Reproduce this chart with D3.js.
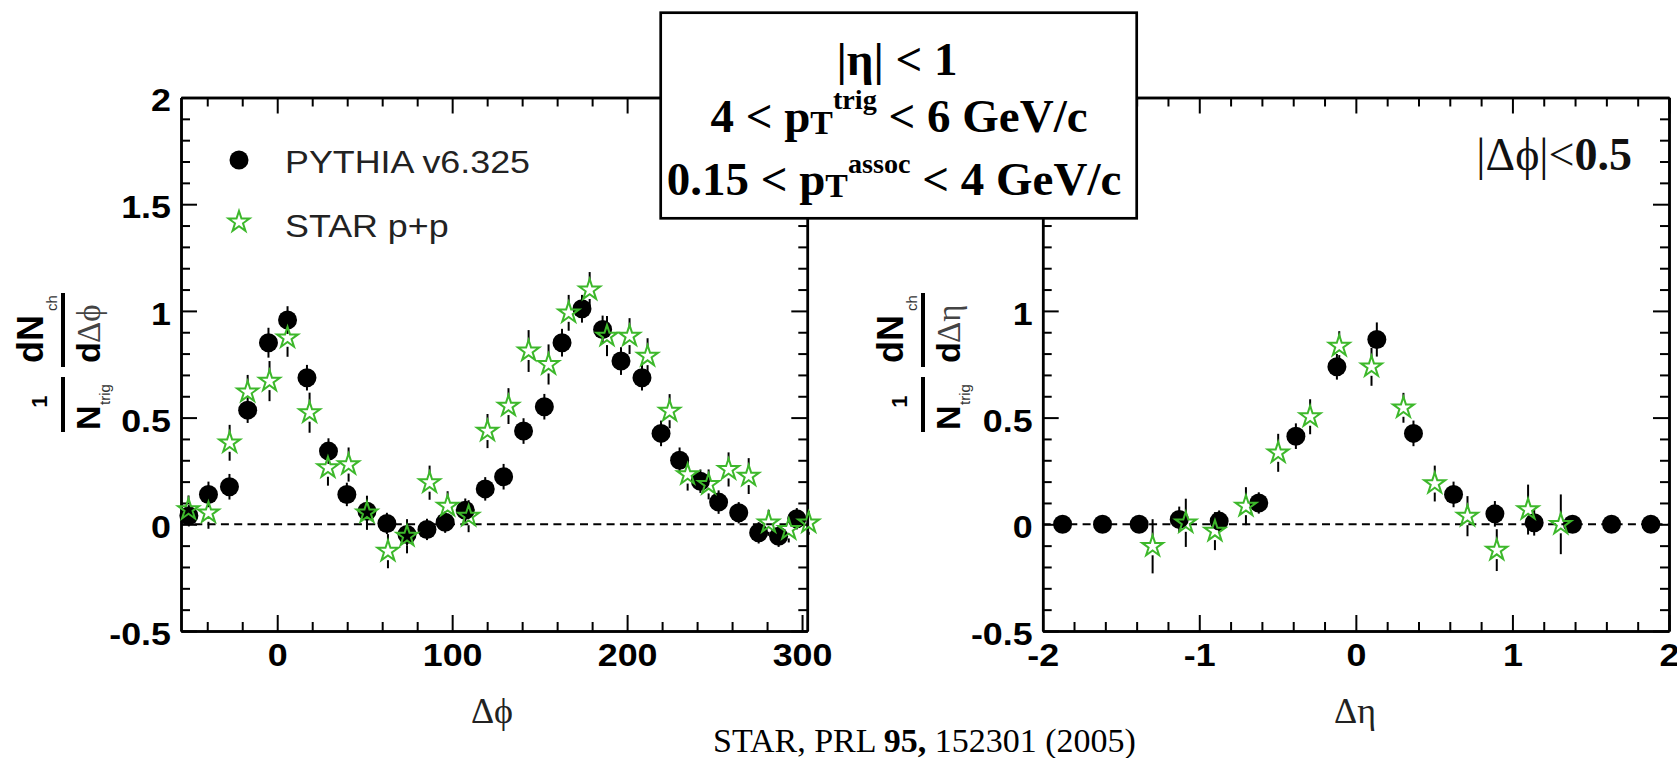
<!DOCTYPE html>
<html>
<head>
<meta charset="utf-8">
<script src="https://cdn.jsdelivr.net/npm/d3@7"></script>
<style>
body { margin: 0; background: #fff; }
svg { display: block; }
</style>
</head>
<body>
<div id="chart"></div>
<script>
// left panel, delta phi in degrees
const phiPythiaX = [-50.5, -39.3, -27.3, -16.9, -5.0, 5.9, 17.0, 29.3, 39.8, 51.3, 62.7, 74.2, 85.6, 96.0, 107.5, 118.9,
    129.4, 140.8, 152.7, 162.8, 174.2, 186.0, 196.5, 208.5, 219.4, 230.0, 241.9, 252.3, 263.8, 275.2, 286.6, 297.0];
const phiPythiaY = [0.04, 0.14, 0.176, 0.535, 0.851, 0.957, 0.687, 0.343, 0.14, 0.061, 0.004, -0.048, -0.024, 0.01, 0.066, 0.166,
    0.223, 0.437, 0.551, 0.851, 1.01, 0.913, 0.765, 0.687, 0.426, 0.30, 0.202, 0.104, 0.054, -0.04, -0.056, 0.026];
const phiPythiaE = [0.05, 0.06, 0.06, 0.06, 0.07, 0.065, 0.06, 0.06, 0.055, 0.055, 0.05, 0.05, 0.05, 0.05, 0.055, 0.055,
    0.06, 0.06, 0.06, 0.065, 0.065, 0.065, 0.065, 0.06, 0.06, 0.06, 0.055, 0.055, 0.05, 0.05, 0.05, 0.05];

const phiStarX = [-50.7, -39.3, -27.2, -16.9, -4.4, 5.9, 18.5, 29.0, 40.8, 51.3, 63.3, 74.2, 87.1, 97.4, 109.4, 120.2,
    132.2, 143.7, 155.1, 166.6, 178.6, 188.5, 201.4, 211.7, 224.3, 234.6, 246.6, 258.0, 269.5, 280.9, 292.4, 303.8];
const phiStarY = [0.069, 0.054, 0.382, 0.62, 0.671, 0.874, 0.523, 0.265, 0.28, 0.054, -0.126, -0.056, 0.195, 0.085, 0.038, 0.437,
    0.554, 0.812, 0.749, 0.991, 1.098, 0.882, 0.882, 0.788, 0.53, 0.233, 0.187, 0.257, 0.226, 0.007, -0.024, 0.007];
const phiStarE = [0.066, 0.075, 0.084, 0.08, 0.094, 0.089, 0.094, 0.084, 0.08, 0.08, 0.08, 0.08, 0.08, 0.07, 0.075, 0.08,
    0.084, 0.098, 0.094, 0.084, 0.084, 0.094, 0.084, 0.084, 0.08, 0.075, 0.07, 0.08, 0.084, 0.061, 0.061, 0.056];

// right panel, delta eta
const etaPythiaX = [-1.873, -1.618, -1.384, -1.128, -0.873, -0.62, -0.383, -0.121, 0.134, 0.368, 0.624, 0.888, 1.139, 1.384, 1.633, 1.884];
const etaPythiaY = [0, 0, 0, 0.023, 0.015, 0.10, 0.413, 0.738, 0.866, 0.426, 0.14, 0.049, 0.007, 0, 0, 0];
const etaPythiaE = [0.04, 0.04, 0.04, 0.06, 0.05, 0.05, 0.06, 0.06, 0.08, 0.06, 0.06, 0.06, 0.06, 0.04, 0.04, 0.04];

const etaStarX = [-1.298, -1.086, -0.9, -0.702, -0.496, -0.292, -0.106, 0.1, 0.304, 0.504, 0.713, 0.9, 1.1, 1.309];
const etaStarY = [-0.103, 0.007, -0.032, 0.085, 0.335, 0.504, 0.835, 0.738, 0.546, 0.191, 0.038, -0.121, 0.069, 0.0];
const etaStarE = [0.127, 0.113, 0.089, 0.089, 0.089, 0.082, 0.07, 0.089, 0.07, 0.084, 0.094, 0.098, 0.117, 0.14];

const yTicks = [-0.5, 0, 0.5, 1, 1.5, 2];
const yTicksRight = [-0.5, 0, 0.5, 1];   // 1.5 and 2 sit under the box
const phiTicks = [0, 100, 200, 300];
const etaTicks = [-2, -1, 0, 1, 2];

const W = 1677, H = 758;
const sans = "'Liberation Sans', Arial, Helvetica, sans-serif";
const serif = "'Liberation Serif', 'Times New Roman', 'DejaVu Serif', serif";
const green = "#3db82b";
const stretch = 1.12;
const PHI = "\u03d5";

const svg = d3.select("#chart").append("svg")
    .attr("width", W)
    .attr("height", H)
    .style("background", "#fff");

const y = d3.scaleLinear().domain([-0.5, 2]).range([631, 97.5]);
const yMinor = d3.range(-0.4, 2, 0.1).filter(v => Math.abs(v * 2 - Math.round(v * 2)) > 1e-6);

const zip = (xs, ys, es) => xs.map((v, i) => ({x: v, y: ys[i], e: es[i]}));
const starSym = d3.symbol().type(d3.symbolStar).size(136);

function styleAxis(g) {
    g.select(".domain").attr("stroke", "#000").attr("stroke-width", 2.5);
    g.selectAll(".tick line").attr("stroke", "#000").attr("stroke-width", 2);
}

function drawPanel(x, xTicks, xMinor, yLabels, pythia, star) {
    const g = svg.append("g");
    const [x0, x1] = x.range();
    const yb = y.range()[0], yt = y.range()[1];

    // axes (ROOT style, ticks inside, on all four sides)
    g.append("g").attr("transform", `translate(0,${yb})`)
        .call(d3.axisBottom(x).tickValues(xTicks).tickSize(-16).tickSizeOuter(0).tickPadding(12).tickFormat(d => String(d)))
        .call(styleAxis)
        .call(a => a.selectAll("text")
            .attr("font-family", sans).attr("font-weight", "bold").attr("font-size", 32).attr("fill", "#000")
            .attr("transform", `scale(${stretch},1)`));
    g.append("g").attr("transform", `translate(0,${yb})`)
        .call(d3.axisBottom(x).tickValues(xMinor).tickSize(-9).tickSizeOuter(0).tickFormat(""))
        .call(styleAxis);
    g.append("g").attr("transform", `translate(0,${yt})`)
        .call(d3.axisTop(x).tickValues(xTicks).tickSize(-16).tickSizeOuter(0).tickFormat(""))
        .call(styleAxis);
    g.append("g").attr("transform", `translate(0,${yt})`)
        .call(d3.axisTop(x).tickValues(xMinor).tickSize(-9).tickSizeOuter(0).tickFormat(""))
        .call(styleAxis);

    g.append("g").attr("transform", `translate(${x0},0)`)
        .call(d3.axisLeft(y).tickValues(yTicks).tickSize(-16).tickSizeOuter(0)
            .tickFormat(d => yLabels.includes(d) ? String(d) : ""))
        .call(styleAxis)
        .call(a => a.selectAll("text")
            .attr("font-family", sans).attr("font-weight", "bold").attr("font-size", 32).attr("fill", "#000")
            .attr("x", 0).attr("dy", "0.42em")
            .attr("transform", `translate(-10,0) scale(${stretch},1)`));
    g.append("g").attr("transform", `translate(${x0},0)`)
        .call(d3.axisLeft(y).tickValues(yMinor).tickSize(-9).tickSizeOuter(0).tickFormat(""))
        .call(styleAxis);
    g.append("g").attr("transform", `translate(${x1},0)`)
        .call(d3.axisRight(y).tickValues(yTicks).tickSize(-16).tickSizeOuter(0).tickFormat(""))
        .call(styleAxis);
    g.append("g").attr("transform", `translate(${x1},0)`)
        .call(d3.axisRight(y).tickValues(yMinor).tickSize(-9).tickSizeOuter(0).tickFormat(""))
        .call(styleAxis);

    // zero line
    g.append("line")
        .attr("x1", x0).attr("x2", x1)
        .attr("y1", y(0)).attr("y2", y(0))
        .attr("stroke", "#000").attr("stroke-width", 2)
        .attr("stroke-dasharray", "8,5.3");

    // PYTHIA
    g.append("g").selectAll("line")
        .data(pythia)
        .join("line")
        .attr("x1", d => x(d.x)).attr("x2", d => x(d.x))
        .attr("y1", d => y(d.y + d.e)).attr("y2", d => y(d.y - d.e))
        .attr("stroke", "#000").attr("stroke-width", 2);
    g.append("g").selectAll("circle")
        .data(pythia)
        .join("circle")
        .attr("cx", d => x(d.x)).attr("cy", d => y(d.y))
        .attr("r", 9.5)
        .attr("fill", "#000");

    // STAR p+p, error bars stop at the marker
    const gap = 9;
    const bars = g.append("g").attr("stroke", "#000").attr("stroke-width", 2);
    bars.selectAll("line.up")
        .data(star)
        .join("line")
        .attr("class", "up")
        .attr("x1", d => x(d.x)).attr("x2", d => x(d.x))
        .attr("y1", d => y(d.y + d.e)).attr("y2", d => Math.max(y(d.y + d.e), y(d.y) - gap));
    bars.selectAll("line.dn")
        .data(star)
        .join("line")
        .attr("class", "dn")
        .attr("x1", d => x(d.x)).attr("x2", d => x(d.x))
        .attr("y1", d => Math.min(y(d.y - d.e), y(d.y) + gap)).attr("y2", d => y(d.y - d.e));
    g.append("g").selectAll("path")
        .data(star)
        .join("path")
        .attr("d", starSym)
        .attr("transform", d => `translate(${x(d.x)},${y(d.y)})`)
        .attr("fill", "none")
        .attr("stroke", green)
        .attr("stroke-width", 2);
}

function drawYTitle(cx, symbol) {
    const t = svg.append("g").attr("transform", `translate(${cx},367) rotate(-90)`);
    // 1 / N_trig
    t.append("line").attr("x1", -65).attr("x2", -10).attr("y1", 0).attr("y2", 0)
        .attr("stroke", "#000").attr("stroke-width", 4);
    t.append("text").attr("x", -34.5).attr("y", -16).attr("text-anchor", "middle")
        .attr("font-family", sans).attr("font-weight", "bold").attr("font-size", 22).text("1");
    t.append("text").attr("x", -63).attr("y", 37)
        .attr("font-family", sans).attr("font-weight", "bold").attr("font-size", 34).text("N");
    t.append("text").attr("x", -38).attr("y", 47)
        .attr("font-family", sans).attr("font-size", 15).attr("fill", "#333").text("trig");
    // dN_ch / d(symbol)
    t.append("line").attr("x1", 0).attr("x2", 74).attr("y1", 0).attr("y2", 0)
        .attr("stroke", "#000").attr("stroke-width", 4);
    t.append("text").attr("x", 4).attr("y", -20)
        .attr("font-family", sans).attr("font-weight", "bold").attr("font-size", 36).text("dN");
    t.append("text").attr("x", 56).attr("y", -6)
        .attr("font-family", sans).attr("font-size", 15).attr("fill", "#333").text("ch");
    t.append("text").attr("x", 4).attr("y", 37)
        .attr("font-family", sans).attr("font-weight", "bold").attr("font-size", 34).text("d");
    t.append("text").attr("x", 24).attr("y", 37)
        .attr("font-family", serif).attr("font-size", 33).attr("fill", "#444").text(symbol);
}

const xPhi = d3.scaleLinear().domain([-55, 303]).range([181, 807.3]);
const xEta = d3.scaleLinear().domain([-2, 2]).range([1042.7, 1669]);

drawPanel(xPhi, phiTicks,
    d3.range(-40, 303, 20).filter(v => v % 100 !== 0),
    yTicks,
    zip(phiPythiaX, phiPythiaY, phiPythiaE),
    zip(phiStarX, phiStarY, phiStarE));

drawPanel(xEta, etaTicks,
    d3.range(-1.8, 2, 0.2).filter(v => Math.abs(v - Math.round(v)) > 1e-6),
    yTicksRight,
    zip(etaPythiaX, etaPythiaY, etaPythiaE),
    zip(etaStarX, etaStarY, etaStarE));

drawYTitle(63, "\u0394" + PHI);
drawYTitle(923, "\u0394\u03b7");

// x titles
svg.append("text").attr("x", 492).attr("y", 723).attr("text-anchor", "middle")
    .attr("font-family", serif).attr("font-size", 36).attr("fill", "#222").text("\u0394" + PHI);
svg.append("text").attr("x", 1355).attr("y", 723).attr("text-anchor", "middle")
    .attr("font-family", serif).attr("font-size", 36).attr("fill", "#222").text("\u0394\u03b7");

// legend
svg.append("circle").attr("cx", 239).attr("cy", 160).attr("r", 9.5).attr("fill", "#000");
svg.append("path").attr("d", starSym).attr("transform", "translate(239,222)")
    .attr("fill", "none").attr("stroke", green).attr("stroke-width", 2);
svg.append("text").attr("transform", `translate(285,173.3) scale(${stretch},1)`)
    .attr("font-family", sans).attr("font-size", 32).attr("fill", "#222").text("PYTHIA v6.325");
svg.append("text").attr("transform", `translate(285,236.5) scale(${stretch},1)`)
    .attr("font-family", sans).attr("font-size", 32).attr("fill", "#222").text("STAR p+p");

// |dphi| cut label
const cut = svg.append("text").attr("x", 1632).attr("y", 170).attr("text-anchor", "end")
    .attr("font-family", serif).attr("font-size", 46).attr("fill", "#111");
cut.append("tspan").text("|\u0394" + PHI + "|<");
cut.append("tspan").attr("font-weight", "bold").text("0.5");

// kinematics box
svg.append("rect")
    .attr("x", 660.7).attr("y", 12.7).attr("width", 476).attr("height", 205.6)
    .attr("fill", "#fff").attr("stroke", "#000").attr("stroke-width", 2.7);

const boxFont = 47;
svg.append("text").attr("x", 897).attr("y", 75).attr("text-anchor", "middle")
    .attr("font-family", serif).attr("font-weight", "bold").attr("font-size", boxFont)
    .text("|\u03b7| < 1");

const l2 = svg.append("text").attr("x", 899).attr("y", 131.7).attr("text-anchor", "middle")
    .attr("font-family", serif).attr("font-weight", "bold").attr("font-size", boxFont);
l2.append("tspan").text("4 < p");
l2.append("tspan").attr("font-size", boxFont * 0.72).attr("dy", 2).text("T");
l2.append("tspan").attr("font-size", boxFont * 0.6).attr("dy", -25).text("trig");
l2.append("tspan").attr("dy", 23).text(" < 6 GeV/c");

const l3 = svg.append("text").attr("x", 894).attr("y", 195).attr("text-anchor", "middle")
    .attr("font-family", serif).attr("font-weight", "bold").attr("font-size", boxFont);
l3.append("tspan").text("0.15 < p");
l3.append("tspan").attr("font-size", boxFont * 0.72).attr("dy", 2).text("T");
l3.append("tspan").attr("font-size", boxFont * 0.6).attr("dy", -24).text("assoc");
l3.append("tspan").attr("dy", 22).text(" < 4 GeV/c");

// reference
const ref = svg.append("text").attr("x", 713).attr("y", 752)
    .attr("font-family", serif).attr("font-size", 34).attr("fill", "#000");
ref.append("tspan").text("STAR, PRL ");
ref.append("tspan").attr("font-weight", "bold").text("95,");
ref.append("tspan").text(" 152301 (2005)");
</script>
</body>
</html>
